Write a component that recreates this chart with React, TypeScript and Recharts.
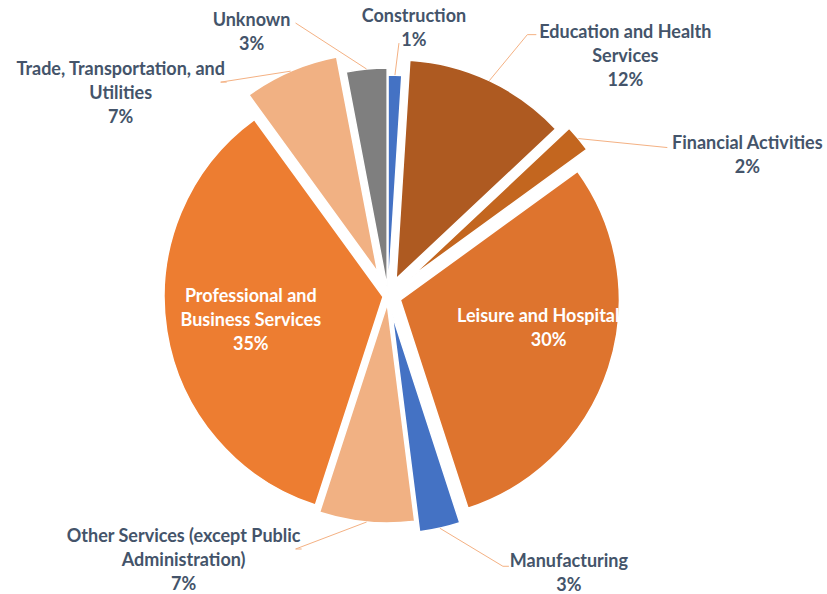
import { Cell, Pie, PieChart, Sector } from "recharts"

// Share of businesses by industry (%)
const INDUSTRIES = [
  "Construction",
  "Education and Health Services",
  "Financial Activities",
  "Leisure and Hospitality",
  "Manufacturing",
  "Other Services (except Public Administration)",
  "Professional and Business Services",
  "Trade, Transportation, and Utilities",
  "Unknown",
]
const SHARES = [1, 12, 2, 30, 3, 7, 35, 7, 3]

// how each label wraps
const LABEL_LINES = [
  ["Construction"],
  ["Education and Health", "Services"],
  ["Financial Activities"],
  ["Leisure and Hospitality"],
  ["Manufacturing"],
  ["Other Services (except Public", "Administration)"],
  ["Professional and", "Business Services"],
  ["Trade, Transportation, and", "Utilities"],
  ["Unknown"],
]

const COLORS = ["#4472C4", "#AE5A21", "#C3661F", "#DE742E", "#4472C4", "#F1B183", "#ED7D31", "#F1B183", "#7F7F7F"]
// slice explosion, px
const EXPLODE = [2, 19, 28, 13, 19, 8, 5, 26, 9]
// label (first line centre) relative to the slice's outer mid point
const LABEL_OFFSET: [number, number][] = [
  [19, -60], [136, -50], [169, 3], [-60, -53], [129, 32],
  [-183, 13], [84, -36], [-170, -3], [-115, -50],
]
// leader line end points relative to the label, null = label sits inside
const LEADERS: ([number, number][] | null)[] = [
  [[-15, 28]],
  [[-98, 4], [-89, 4]],
  [[-80, 6]],
  null,
  [[-66, 6], [-60, 6]],
  [[112, 14], [118, 14]],
  null,
  [[100, 14], [106, 14]],
  [[44, 4]],
]
const INSIDE = [false, false, false, true, false, false, true, false, false]

const RAD = Math.PI / 180
const FONT = "Lato, 'Open Sans', sans-serif"

const idxOf = (p: any) => {
  const n = p?.payload?.name ?? p?.name
  const i = INDUSTRIES.indexOf(n)
  return i >= 0 ? i : p.index ?? 0
}

function ExplodedSector(props: any) {
  const e = EXPLODE[idxOf(props)]
  const a = -props.midAngle * RAD
  return <Sector {...props} cx={props.cx + e * Math.cos(a)} cy={props.cy + e * Math.sin(a)} />
}

function SliceLabel(props: any) {
  const i = idxOf(props)
  const a = -props.midAngle * RAD
  const r = props.outerRadius + EXPLODE[i]
  const ax = props.cx + r * Math.cos(a)
  const ay = props.cy + r * Math.sin(a)
  const lx = ax + LABEL_OFFSET[i][0]
  const ly = ay + LABEL_OFFSET[i][1]
  const lines = [...LABEL_LINES[i], `${Math.round(props.percent * 100)}%`]
  const leader = LEADERS[i]
  return (
    <g>
      {leader && (
        <polyline
          points={[[ax, ay], ...leader.map(([dx, dy]) => [lx + dx, ly + dy])].map((p) => p.join(",")).join(" ")}
          fill="none"
          stroke="#F4B183"
          strokeWidth={1}
        />
      )}
      <text
        x={lx}
        y={ly}
        textAnchor="middle"
        dominantBaseline="central"
        fontFamily={FONT}
        fontWeight={700}
        fontSize={18}
        fill={INSIDE[i] ? "#FFFFFF" : "#44546A"}
      >
        {lines.map((t, k) => (
          <tspan key={k} x={lx} dy={k === 0 ? 0 : 24}>
            {t}
          </tspan>
        ))}
      </text>
    </g>
  )
}

const data = INDUSTRIES.map((name, i) => ({ name, value: SHARES[i] }))

export default function App() {
  return (
    <div style={{ position: "absolute", left: 0, top: 0, background: "#fff" }}>
      <PieChart width={827} height={594} margin={{ top: 0, right: 0, bottom: 0, left: 0 }}>
        <Pie
          data={data}
          dataKey="value"
          nameKey="name"
          cx={388}
          cy={296}
          outerRadius={219}
          startAngle={90}
          endAngle={-270}
          stroke="#FFFFFF"
          strokeWidth={1.5}
          shape={ExplodedSector}
          label={SliceLabel}
          labelLine={false}
          isAnimationActive={false}
        >
          {data.map((d, i) => (
            <Cell key={d.name} fill={COLORS[i]} />
          ))}
        </Pie>
      </PieChart>
    </div>
  )
}
